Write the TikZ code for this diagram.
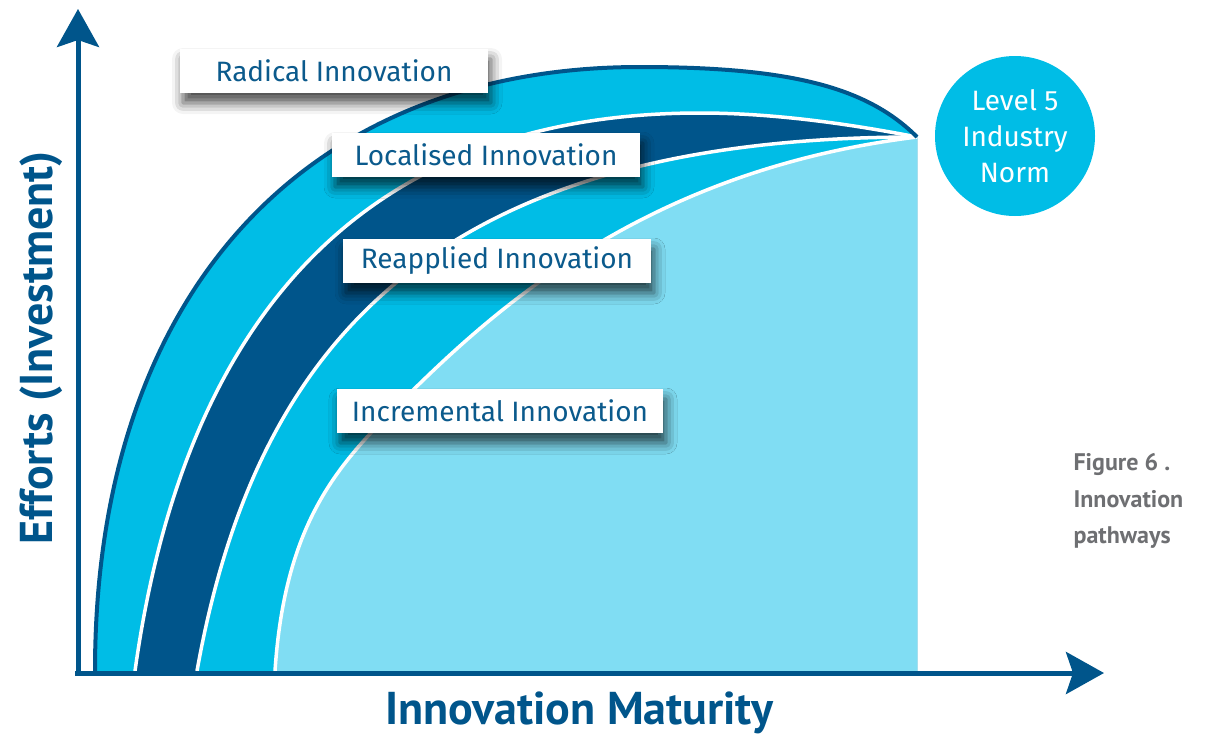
\documentclass[tikz,border=0pt]{standalone}
\usepackage{fontspec}
\setmainfont{Fira Sans}
\newfontfamily\axisfont{PT Sans}
\usepackage{tikz}
\usetikzlibrary{arrows.meta,calc,shadows.blur}
\definecolor{innoDark}{HTML}{00558B}
\definecolor{innoCyan}{HTML}{00BDE6}
\definecolor{innoLight}{HTML}{80DDF3}
\definecolor{innoText}{HTML}{0B5A8C}
\definecolor{captionGrey}{HTML}{6E6F72}
% the four pathway curves, from the foot of the band to the norm point
\newcommand\radicalpath{(95,671) .. controls (95,297) and (302,67) .. (640,67) .. controls (790,67) and (867,87) .. (917,137)}
\newcommand\localisedpath{(135,671) .. controls (180,347) and (340,113) .. (700,113) .. controls (780,113) and (860,126) .. (917,137)}
\newcommand\reappliedpath{(197,671) .. controls (256,341) and (437,137) .. (917,137)}
\newcommand\incrementalpath{(275,671) .. controls (285,520) and (340,463) .. (400,403) .. controls (500,303) and (650,170) .. (917,137)}
\tikzset{
    %Define standard arrow tip
    >={Stealth[length=38pt,width=42pt,inset=7pt]},
    % Define axis style
    axis/.style={
           ->,
           line width=5pt,
           innoDark,
           },
    % Define band edges
    rim/.style={
           line width=4pt,
           innoDark,
           },
    seam/.style={
           line width=3.5pt,
           white,
           },
    % Define label boxes
    pathbox/.style={
           fill=white,
           text=innoText,
           minimum width=308pt,
           minimum height=44pt,
           inner xsep=15pt,
           font=\fontsize{28}{32}\selectfont,
           blur shadow={shadow xshift=3pt,shadow yshift=-10pt,shadow blur radius=11pt,shadow opacity=70},
           },
}
\begin{document}
\begin{tikzpicture}[x=1pt,y=-1pt]
	\useasboundingbox (0,0) rectangle (1208,737);
	\coordinate (o) at (78,673);
	\coordinate (ytip) at (78,9);
	\coordinate (xtip) at (1104,673);
	\fill[innoCyan] \radicalpath -- (917,671) -- cycle;
	\fill[innoDark] \localisedpath -- (917,671) -- cycle;
	\fill[innoCyan] \reappliedpath -- (917,671) -- cycle;
	\fill[innoLight] \incrementalpath -- (917,671) -- cycle;
	\draw[seam] \localisedpath;
	\draw[seam] \reappliedpath;
	\draw[seam] \incrementalpath;
	\draw[rim] \radicalpath;
	\draw [axis] ($(o)+(0,2)$) -- (ytip);
	\draw [axis] ($(o)+(-3,0)$) -- (xtip);
	\node (a) at (334,71) [pathbox] {Radical Innovation};
	\node (b) at (486,155) [pathbox] {Localised Innovation};
	\node (c) at (497,261) [pathbox] {Reapplied Innovation};
	\node (d) at (500,411) [pathbox] {Incremental Innovation};
	\node (norm) at (1015,136) [circle,fill=innoCyan,minimum size=160pt,inner sep=0pt,text=white,align=center,font=\fontsize{28}{36}\selectfont] {Level 5\\Industry\\Norm};
	\node (xlabel) at (579,713) [text=innoDark,font=\axisfont\bfseries\fontsize{46}{50}\selectfont] {Innovation Maturity};
	\node (ylabel) at (41,348) [rotate=90,text=innoDark,font=\axisfont\bfseries\fontsize{46}{50}\selectfont] {Efforts (Investment)};
	\node (caption) at (1070,501) [anchor=west,align=left,text=captionGrey,font=\axisfont\bfseries\fontsize{24}{36.5}\selectfont] {Figure 6 .\\Innovation\\pathways};
\end{tikzpicture}
\end{document}
